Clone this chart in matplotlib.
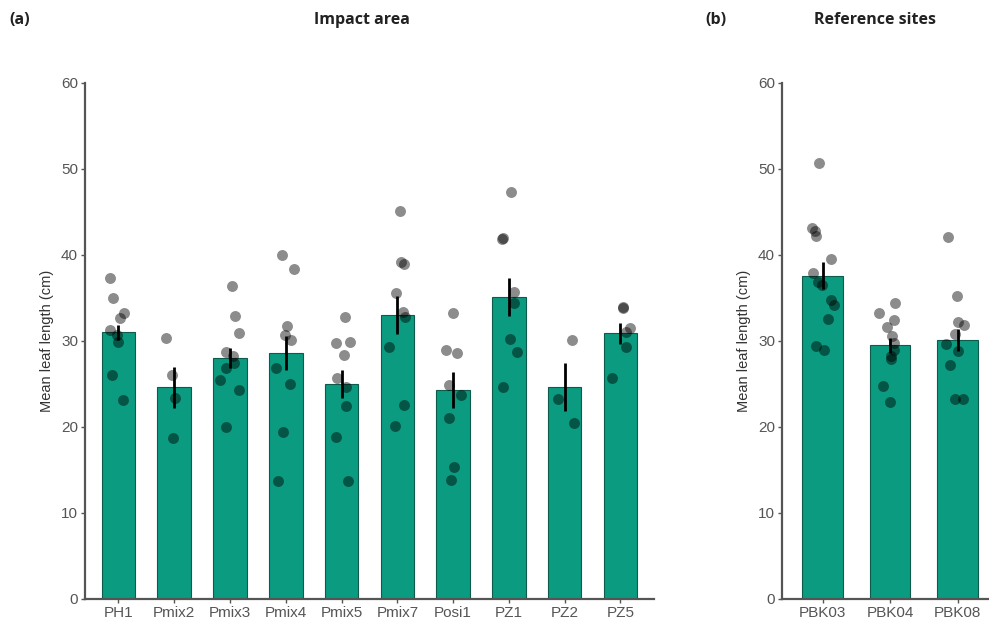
import numpy as np
import matplotlib
matplotlib.use("Agg")
import matplotlib.pyplot as plt

plt.rcParams['font.family'] = ['Liberation Sans', 'DejaVu Sans']

# panel (a) impact area
sites_a = ['PH1', 'Pmix2', 'Pmix3', 'Pmix4', 'Pmix5', 'Pmix7', 'Posi1', 'PZ1', 'PZ2', 'PZ5']
mean_a = [31.0, 24.6, 28.0, 28.6, 25.0, 33.0, 24.3, 35.1, 24.6, 30.9]
se_a = [0.9, 2.4, 1.2, 2.0, 1.6, 2.2, 2.1, 2.2, 2.8, 1.2]
pts_a = [
    [37.3, 35.0, 33.2, 32.7, 31.3, 30.7, 29.9, 26.1, 23.1],
    [30.3, 26.0, 23.4, 18.7],
    [36.4, 32.9, 30.9, 28.7, 28.3, 27.4, 26.9, 25.5, 24.3, 20.0],
    [40.0, 38.4, 31.7, 30.7, 30.1, 26.8, 25.0, 19.4, 13.7],
    [32.8, 29.9, 29.8, 28.4, 25.7, 24.7, 22.4, 18.8, 13.7],
    [45.1, 39.2, 39.0, 35.6, 33.4, 32.8, 29.3, 22.6, 20.1],
    [33.3, 29.0, 28.6, 24.9, 23.7, 21.0, 15.3, 13.8],
    [47.3, 42.0, 41.8, 35.7, 34.4, 30.2, 28.7, 24.6],
    [30.1, 23.2, 20.5],
    [34.0, 33.8, 31.5, 31.1, 29.3, 25.7],
]

# panel (b) reference sites
sites_b = ['PBK03', 'PBK04', 'PBK08']
mean_b = [37.6, 29.5, 30.1]
se_b = [1.6, 0.9, 1.3]
pts_b = [
    [50.7, 43.1, 42.8, 42.2, 39.5, 37.9, 36.9, 36.5, 34.8, 34.2, 32.6, 29.4, 29.0],
    [34.4, 33.3, 32.4, 31.6, 30.6, 29.8, 29.0, 28.2, 27.9, 24.8, 22.9],
    [42.1, 35.2, 32.2, 31.8, 30.8, 29.7, 28.8, 27.2, 23.3, 23.3],
]

bar_col = '#0a9b80'
rng = np.random.default_rng(3)


def panel(ax, sites, means, ses, pts):
    x = np.arange(len(sites))
    ax.bar(x, means, width=0.6, color=bar_col, edgecolor='#0e5a4b', linewidth=0.8, zorder=2)
    for i, vals in enumerate(pts):
        jx = i + rng.uniform(-0.18, 0.18, len(vals))
        ax.scatter(jx, vals, s=62, color='black', alpha=0.45, linewidths=0, zorder=3)
    ax.errorbar(x, means, yerr=ses, fmt='none', ecolor='black', elinewidth=2, capsize=0, zorder=4)
    ax.set_xlim(-0.6, len(sites) - 0.4)
    ax.set_ylim(0, 60)
    ax.set_yticks([0, 10, 20, 30, 40, 50, 60])
    ax.set_xticks(x)
    ax.set_xticklabels(sites)
    ax.set_ylabel('Mean leaf length (cm)', fontsize=10.5, color='#333333', labelpad=5)
    for s in ['top', 'right']:
        ax.spines[s].set_visible(False)
    for s in ['left', 'bottom']:
        ax.spines[s].set_color('#555555')
        ax.spines[s].set_linewidth(1.6)
    ax.tick_params(colors='#555555', labelcolor='#555555', labelsize=11, length=3, width=1, pad=2)


fig = plt.figure(figsize=(9.89, 6.28), dpi=100)
ax1 = fig.add_axes([0.0859, 0.0462, 0.5753, 0.8217])
ax2 = fig.add_axes([0.7907, 0.0462, 0.2184, 0.8217])
panel(ax1, sites_a, mean_a, se_a, pts_a)
panel(ax2, sites_b, mean_b, se_b, pts_b)

tfont = dict(family=['Open Sans', 'DejaVu Sans'], fontweight='bold', fontsize=11.5, color='#222222')
fig.text(0.0095, 0.968, '(a)', ha='left', va='center', **tfont)
fig.text(0.366, 0.968, 'Impact area', ha='center', va='center', **tfont)
fig.text(0.713, 0.968, '(b)', ha='left', va='center', **tfont)
fig.text(0.885, 0.968, 'Reference sites', ha='center', va='center', **tfont)

fig.savefig('out.png', dpi=100)
